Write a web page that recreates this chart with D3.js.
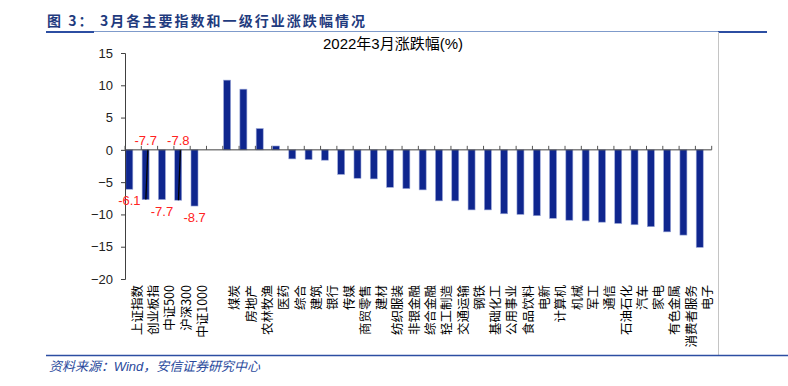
<!DOCTYPE html>
<html><head><meta charset="utf-8">
<script src="https://cdn.jsdelivr.net/npm/d3@7"></script>
<style>body{margin:0;background:#fff}svg{display:block}</style>
</head><body>
<svg id="c" width="788" height="386"></svg>
<script>
const categories = ["上证指数","创业板指","中证500","沪深300","中证1000","",
 "煤炭","房地产","农林牧渔","医药","综合","建筑","银行","传媒","商贸零售","建材",
 "纺织服装","非银金融","综合金融","轻工制造","交通运输","钢铁","基础化工","公用事业",
 "食品饮料","电新","计算机","机械","军工","通信","石油石化","汽车","家电","有色金属",
 "消费者服务","电子"];
const values = [-6.1,-7.7,-7.7,-7.8,-8.7,null,
 10.8,9.4,3.3,0.6,-1.4,-1.5,-1.6,-3.8,-4.4,-4.5,
 -5.8,-6.0,-6.2,-7.9,-7.9,-9.3,-9.3,-9.9,
 -10.0,-10.2,-10.6,-10.9,-11.0,-11.2,-11.4,-11.6,-11.9,-12.7,
 -13.2,-15.1];
const labelIdx = [0,1,2,3,4];
const labelAbove = [false,true,false,true,false];
const yTicks = [-20,-15,-10,-5,0,5,10,15];
const titleText = "2022年3月涨跌幅(%)";
const headerText = "图 3： 3月各主要指数和一级行业涨跌幅情况";
const sourceText = "资料来源：Wind，安信证券研究中心";

const svg = d3.select("#c");
const font = "'Liberation Sans', Arial, 'Noto Sans CJK SC', sans-serif";
const idx = d3.range(categories.length);
const x = d3.scaleBand().domain(idx).range([125, 711.7]).padding(0);
const y = d3.scaleLinear().domain([-20, 15]).range([279, 53]);
const bw = x.bandwidth();

// header
svg.append("text").attr("x", 47).attr("y", 26).attr("fill", "#1f3b7e")
  .attr("font-family", "'Noto Sans CJK SC', sans-serif").attr("font-weight", "bold")
  .attr("font-size", 14).attr("textLength", 318).attr("lengthAdjust", "spacing").text(headerText);
svg.append("line").attr("x1", 46).attr("x2", 767).attr("y1", 31.5).attr("y2", 31.5)
  .attr("stroke", "#7f9bcb").attr("stroke-width", 1);
svg.append("line").attr("x1", 46).attr("x2", 94).attr("y1", 32).attr("y2", 32)
  .attr("stroke", "#2c4ea2").attr("stroke-width", 2);
svg.append("line").attr("x1", 718).attr("x2", 767).attr("y1", 32).attr("y2", 32)
  .attr("stroke", "#2c4ea2").attr("stroke-width", 2);
svg.append("line").attr("x1", 718.5).attr("x2", 718.5).attr("y1", 32).attr("y2", 355)
  .attr("stroke", "#c4c4c4").attr("stroke-width", 1);

// title
svg.append("text").attr("x", 393).attr("y", 49).attr("text-anchor", "middle")
  .attr("font-family", font).attr("font-size", 15).attr("fill", "#000").text(titleText);

// bars
const bars = idx.filter(i => values[i] !== null);
svg.append("g").selectAll("rect").data(bars).join("rect")
  .attr("x", i => x(i) + bw * 0.05)
  .attr("width", bw * 0.43)
  .attr("y", i => y(Math.max(0, values[i])))
  .attr("height", i => Math.abs(y(values[i]) - y(0)))
  .attr("fill", "#0f268e").attr("stroke", "#9aa6d8").attr("stroke-width", 0.6);

// artifact black strokes in two bars
svg.append("g").selectAll("line").data([1, 3]).join("line")
  .attr("x1", i => x(i) + bw * 0.40).attr("y1", y(0))
  .attr("x2", i => x(i) + bw * 0.28).attr("y2", i => y(values[i]))
  .attr("stroke", "#000").attr("stroke-width", 1.3);

// y axis
const yAxis = svg.append("g").attr("transform", "translate(125,0)")
  .call(d3.axisLeft(y).tickValues(yTicks).tickSize(4).tickPadding(8).tickFormat(d3.format("d")));
yAxis.select(".domain").attr("stroke", "#404040");
yAxis.selectAll(".tick line").attr("stroke", "#404040");
yAxis.selectAll("text").attr("font-family", font).attr("font-size", 13).attr("fill", "#222");

// x axis at zero
svg.append("line").attr("x1", 125).attr("x2", 711.7).attr("y1", y(0)).attr("y2", y(0))
  .attr("stroke", "#404040").attr("stroke-width", 1);
const bounds = idx.concat([categories.length]);
svg.append("g").selectAll("line").data(bounds).join("line")
  .attr("x1", i => (i < categories.length ? x(i) : x(i - 1) + bw)).attr("x2", i => (i < categories.length ? x(i) : x(i - 1) + bw))
  .attr("y1", y(0)).attr("y2", y(0) - 4).attr("stroke", "#555").attr("stroke-width", 1);

// category labels (rotated)
svg.append("g").selectAll("text").data(idx).join("text")
  .attr("transform", i => `translate(${x(i) + bw / 2 + 3},285) rotate(-90)`)
  .attr("text-anchor", "end").attr("dominant-baseline", "central")
  .attr("font-family", "'Noto Sans CJK SC', sans-serif").attr("font-size", 12.5).attr("fill", "#000")
  .text(i => categories[i]);

// data labels
svg.append("g").selectAll("text").data(labelIdx).join("text")
  .attr("x", i => x(i) + bw * 0.27)
  .attr("y", (i, k) => labelAbove[k] ? y(0) - 5 : y(values[i]) + 16)
  .attr("text-anchor", "middle").attr("font-family", font).attr("font-size", 13)
  .attr("fill", "#f22").text(i => values[i].toFixed(1));

// source
svg.append("line").attr("x1", 46).attr("x2", 788).attr("y1", 355.5).attr("y2", 355.5)
  .attr("stroke", "#2c4ea2").attr("stroke-width", 1.5);
svg.append("text").attr("x", 49).attr("y", 371).attr("fill", "#2a4a9c")
  .attr("font-family", font).attr("font-style", "italic").attr("font-size", 13)
  .attr("textLength", 211).attr("lengthAdjust", "spacing")
  .text(sourceText);
</script>
</body></html>
